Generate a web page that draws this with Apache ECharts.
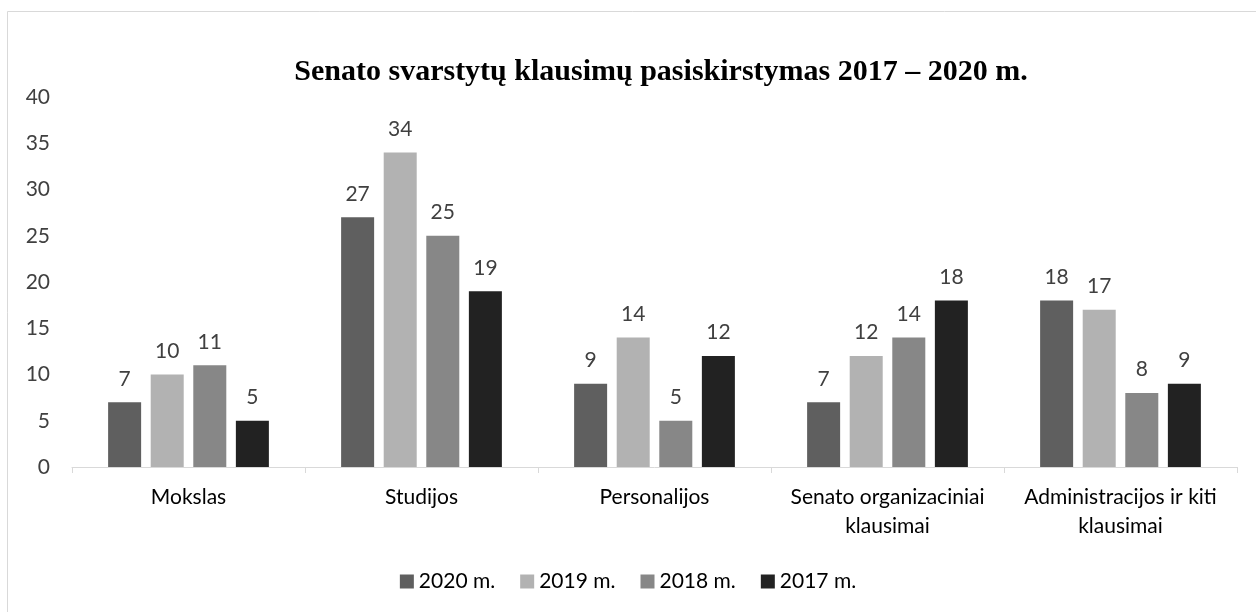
<!DOCTYPE html>
<html>
<head>
<meta charset="utf-8">
<script src="https://cdn.jsdelivr.net/npm/echarts@6/dist/echarts.min.js"></script>
<style>
  html, body { margin: 0; padding: 0; background: #fff; }
  #chart { width: 1256px; height: 612px; }
</style>
</head>
<body>
<div id="chart"></div>
<script>
var categories = ['Mokslas', 'Studijos', 'Personalijos', 'Senato organizaciniai\nklausimai', 'Administracijos ir kiti\nklausimai'];
var years = ['2020 m.', '2019 m.', '2018 m.', '2017 m.'];
var v2020 = [7, 27, 9, 7, 18];
var v2019 = [10, 34, 14, 12, 17];
var v2018 = [11, 25, 5, 14, 8];
var v2017 = [5, 19, 12, 18, 9];
var colors = ['#5f5f5f', '#b2b2b2', '#878787', '#222222'];

var chartDom = document.getElementById('chart');
var myChart = echarts.init(chartDom);
var font = 'Lato, "Open Sans", sans-serif';

function bar(name, data, color) {
  return {
    name: name,
    type: 'bar',
    data: data,
    barGap: '29%',
    barCategoryGap: '31%',
    itemStyle: { color: color },
    label: {
      show: true,
      position: 'top',
      distance: 13,
      color: '#404040',
      fontSize: 21,
      fontFamily: font
    }
  };
}

var option = {
  backgroundColor: '#fff',
  animation: false,
  color: colors,
  graphic: [{
    type: 'rect',
    shape: { x: 7.5, y: 11.5, width: 1300, height: 700 },
    style: { fill: 'none', stroke: '#d9d9d9', lineWidth: 1 },
    silent: true
  }],
  title: {
    text: 'Senato svarstytų klausimų pasiskirstymas 2017 – 2020 m.',
    left: 656,
    textAlign: 'center',
    top: 52,
    textStyle: {
      fontFamily: '"Liberation Serif", "Times New Roman", serif',
      fontWeight: 'bold',
      fontSize: 30,
      color: '#000'
    }
  },
  legend: {
    data: years,
    top: 566,
    left: 'center',
    itemWidth: 14,
    itemHeight: 14,
    itemGap: 25,
    icon: 'rect',
    textStyle: { fontFamily: font, fontSize: 21, color: '#000' }
  },
  grid: { left: 72, right: 19, top: 97, bottom: 145 },
  xAxis: {
    type: 'category',
    data: categories,
    axisLine: { lineStyle: { color: '#d9d9d9', width: 1 } },
    axisTick: { show: true, length: 6, lineStyle: { color: '#d9d9d9' } },
    axisLabel: {
      interval: 0,
      color: '#000',
      fontFamily: font,
      fontSize: 21,
      lineHeight: 29,
      margin: 16
    }
  },
  yAxis: {
    type: 'value',
    min: 0,
    max: 40,
    interval: 5,
    splitLine: { show: false },
    axisLine: { show: false },
    axisTick: { show: false },
    axisLabel: {
      color: '#404040',
      fontFamily: font,
      fontSize: 21,
      margin: 22
    }
  },
  series: [
    bar(years[0], v2020, colors[0]),
    bar(years[1], v2019, colors[1]),
    bar(years[2], v2018, colors[2]),
    bar(years[3], v2017, colors[3])
  ]
};

option && myChart.setOption(option);
</script>
</body>
</html>
